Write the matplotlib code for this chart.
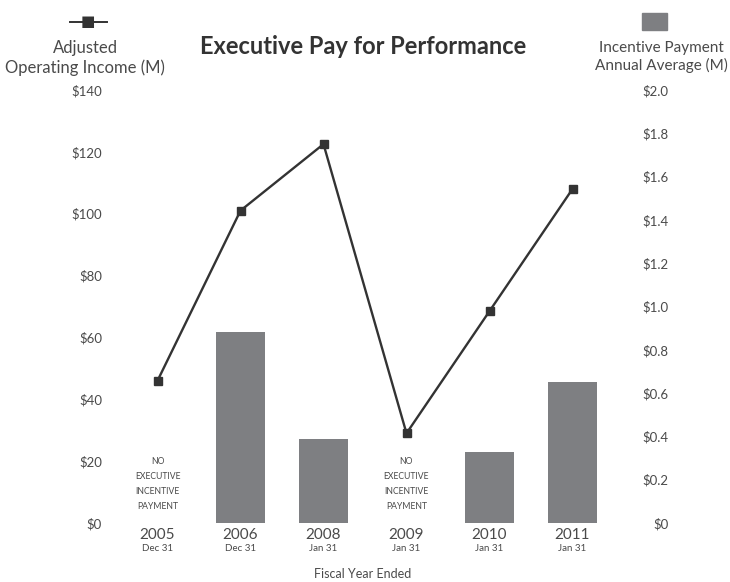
import numpy as np
import matplotlib.pyplot as plt

plt.rcParams['font.family'] = ['Lato', 'DejaVu Sans']

# Data
years = ['2005', '2006', '2008', '2009', '2010', '2011']
ended = ['Dec 31', 'Dec 31', 'Jan 31', 'Jan 31', 'Jan 31', 'Jan 31']
income = [46, 101, 122.5, 29, 68.5, 108]          # adjusted operating income ($M)
incentive = [0, 0.88, 0.39, 0, 0.33, 0.65]         # incentive payment annual average ($M)
no_payment = [True, False, False, True, False, False]

txt = '#4a4a4a'
bar_c = '#7e7f82'
line_c = '#333333'

fig = plt.figure(figsize=(7.3, 5.82), dpi=100)
ax = fig.add_axes([116 / 730, 1 - 523 / 582, (614 - 116) / 730, (523 - 90) / 582])
ax2 = ax.twinx()

x = np.arange(len(years))

# bars on the right axis
ax2.bar(x, incentive, width=0.6, color=bar_c)
ax2.set_ylim(0, 2.0)
ax2.set_yticks(np.arange(0, 2.01, 0.2))
ax2.set_yticklabels(['$0'] + [f'${v:.1f}' for v in np.arange(0.2, 2.01, 0.2)])
ax2.tick_params(axis='y', length=0, pad=39, labelsize=9.5, labelcolor=txt)
for lbl in ax2.get_yticklabels():
    lbl.set_horizontalalignment('right')

# line on the left axis, drawn above bars
ax.set_zorder(ax2.get_zorder() + 1)
ax.patch.set_visible(False)
ax.plot(x, income, color=line_c, lw=1.7, marker='s', ms=6, mfc=line_c, mec=line_c)
ax.set_ylim(0, 140)
ax.set_yticks(range(0, 141, 20))
ax.set_yticklabels([f'${v}' for v in range(0, 141, 20)])
ax.tick_params(axis='y', length=0, pad=10, labelsize=9.5, labelcolor=txt)
ax.set_xlim(-0.5, 5.5)
ax.set_xticks([])

for a in (ax, ax2):
    for s in a.spines.values():
        s.set_visible(False)

# category labels
for i in x:
    ax.text(i, -3.9, years[i], ha='center', va='center', fontsize=11, color=txt)
    ax.text(i, -8.4, ended[i], ha='center', va='center', fontsize=7, color=txt)
    if no_payment[i]:
        for k, w in enumerate(['NO', 'EXECUTIVE', 'INCENTIVE', 'PAYMENT']):
            ax.text(i, 20 - k * 4.9, w, ha='center', va='center', fontsize=6.2, color=txt)

fig.text(363 / 730, 1 - 574 / 582, 'Fiscal Year Ended', ha='center', va='center',
         fontsize=9, color=txt)

# title and legend-style headers
fig.text(363 / 730, 1 - 46 / 582, 'Executive Pay for Performance', ha='center', va='center',
         fontsize=17, fontweight='bold', color='#333333')

fig.lines.append(plt.Line2D([70 / 730, 107 / 730], [1 - 22 / 582] * 2, transform=fig.transFigure,
                            color=line_c, lw=1.4))
fig.text(88 / 730, 1 - 22 / 582, '■', ha='center', va='center', fontsize=11, color=line_c,
         family=['DejaVu Sans'])
fig.text(85 / 730, 1 - 58 / 582, 'Adjusted\nOperating Income (M)', ha='center', va='center',
         fontsize=12, color=txt, linespacing=1.25)

fig.patches.append(plt.Rectangle((642 / 730, 1 - 30 / 582), 25 / 730, 17 / 582,
                                 transform=fig.transFigure, color=bar_c))
fig.text(661 / 730, 1 - 57 / 582, 'Incentive Payment\nAnnual Average (M)', ha='center',
         va='center', fontsize=11, color=txt, linespacing=1.25)

fig.savefig('out.png', dpi=100)
